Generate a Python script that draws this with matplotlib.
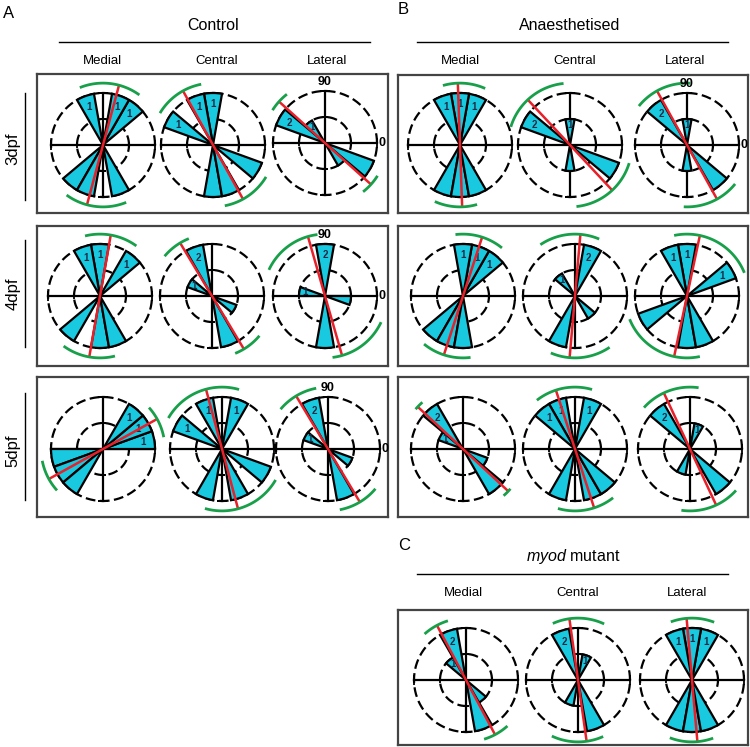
"""Rose diagrams of fibre orientation: control, anaesthetised and myod mutant."""

import numpy as np
import matplotlib

matplotlib.use("Agg")
import matplotlib.pyplot as plt
from matplotlib.lines import Line2D

plt.rcParams["font.family"] = ["Liberation Sans", "DejaVu Sans"]
plt.rcParams["mathtext.fontset"] = "custom"
plt.rcParams["mathtext.rm"] = "Liberation Sans"
plt.rcParams["mathtext.it"] = "Liberation Sans:italic"

W, H = 750, 747

# ---- data -------------------------------------------------------------
BIN_WIDTH = 20                       # degrees, bins 0-20 ... 160-180 (axial, mirrored)
BIN_STARTS = list(range(0, 180, BIN_WIDTH))
ZONES = ["Medial", "Central", "Lateral"]
STAGES = ["3dpf", "4dpf", "5dpf"]

control_counts = [
    [[0, 0, 1, 1, 0, 1, 0, 0, 0], [0, 0, 0, 0, 1, 1, 0, 1, 0], [0, 0, 0, 0, 0, 0, 1, 2, 0]],
    [[0, 0, 1, 0, 1, 1, 0, 0, 0], [0, 0, 0, 0, 0, 2, 0, 1, 0], [0, 0, 0, 0, 2, 0, 0, 0, 1]],
    [[1, 1, 1, 0, 0, 0, 0, 0, 0], [0, 0, 0, 1, 0, 1, 0, 1, 0], [0, 0, 0, 0, 0, 2, 0, 1, 0]],
]
control_mean = [[75, 119, 138], [80, 121, 106], [29, 105, 121]]
control_ci = [
    [(54, 112), (101, 149), (128, 148)],
    [(54, 104), (112, 140), (97, 155)],
    [(11, 42), (74, 150), (101, 140)],
]

anaes_counts = [
    [[0, 0, 0, 1, 1, 1, 0, 0, 0], [0, 0, 0, 0, 1, 0, 0, 2, 0], [0, 0, 0, 0, 1, 0, 2, 0, 0]],
    [[0, 0, 1, 1, 1, 0, 0, 0, 0], [0, 0, 0, 2, 0, 0, 1, 0, 0], [0, 1, 0, 0, 1, 1, 0, 0, 0]],
    [[0, 0, 0, 0, 0, 0, 2, 1, 0], [0, 0, 0, 1, 0, 1, 1, 0, 0], [0, 0, 0, 1, 0, 0, 2, 0, 0]],
]
anaes_mean = [[92, 133, 119], [72, 85, 78], [137, 108, 115]]
anaes_ci = [
    [(66, 106), (96, 163), (87, 141)],
    [(51, 97), (67, 124), (22, 102)],
    [(131, 140), (74, 128), (82, 138)],
]

myod_counts = [[0, 0, 0, 0, 0, 2, 1, 0, 0], [0, 0, 0, 1, 0, 2, 0, 0, 0], [0, 0, 0, 1, 1, 1, 0, 0, 0]]
myod_mean = [118, 98, 95]
myod_ci = [(107, 132), (65, 114), (69, 110)]

# ---- layout (pixels) ----------------------------------------------------
R_PX = 52          # outer circle radius
K = 1.3            # axes half-size relative to outer circle
BOX_A = [(37, 74, 351, 139), (37, 226, 351, 140), (37, 377, 351, 140)]
BOX_B = [(398, 75, 350, 138), (398, 226, 350, 140), (398, 377, 350, 140)]
BOX_C = (398, 610, 350, 135)
CENTERS_A = [[(103, 145), (213, 145), (325, 143)],
             [(100, 296), (212, 296), (325, 296)],
             [(103, 449), (222, 449), (328, 449)]]
CENTERS_B = [[(460, 145), (570, 145), (687, 145)],
             [(463, 296), (575, 296), (687, 296)],
             [(463, 449), (575, 449), (690, 449)]]
CENTERS_C = [(466, 680), (578, 680), (692, 680)]

CYAN = "#19c9df"
RED = "#e8202a"
GREEN = "#17a049"
NUM_COLOR = "#1b2a44"


def px_axes(fig, x0, y0, w, h, **kw):
    return fig.add_axes([x0 / W, 1 - (y0 + h) / H, w / W, h / H], **kw)


def draw_box(fig, rect):
    ax = px_axes(fig, *rect)
    ax.set_xticks([])
    ax.set_yticks([])
    for spine in ax.spines.values():
        spine.set_color("#444444")
        spine.set_linewidth(1.6)
    return ax


def draw_rose(fig, center, counts, mean, ci, angle_labels=False):
    cx, cy = center
    half = R_PX * K
    ax = px_axes(fig, cx - half, cy - half, 2 * half, 2 * half, projection="polar")
    ax.set_axis_off()
    rmax = max(counts)
    ax.set_ylim(0, rmax * K)

    # dashed circles
    full = np.linspace(0, 2 * np.pi, 361)
    for r in (rmax, rmax / 2):
        ax.plot(full, np.full_like(full, r), color="black", lw=1.6,
                linestyle=(0, (4.4, 2.0)), zorder=1)

    # cross with end caps and inner ticks
    ax.plot([0, 0, np.pi, np.pi], [rmax, 0, 0, rmax], color="black", lw=1.6, zorder=1.5)
    ax.plot([np.pi / 2, np.pi / 2, 1.5 * np.pi, 1.5 * np.pi], [rmax, 0, 0, rmax],
            color="black", lw=1.6, zorder=1.5)
    for r, ms in ((rmax, 7.5), (rmax / 2, 5)):
        ax.plot([0, np.pi], [r, r], linestyle="none", marker="|", ms=ms, mew=1.3,
                color="black", zorder=1.5)
        ax.plot([np.pi / 2, 1.5 * np.pi], [r, r], linestyle="none", marker="_", ms=ms,
                mew=1.3, color="black", zorder=1.5)

    # wedges (axial: each bin mirrored at +180)
    starts = np.array(BIN_STARTS, dtype=float)
    vals = np.array(counts, dtype=float)
    keep = vals > 0
    centers = np.deg2rad(starts[keep] + BIN_WIDTH / 2)
    width = np.deg2rad(BIN_WIDTH)
    for offset in (0, np.pi):
        ax.bar(centers + offset, vals[keep], width=width, bottom=0, color=CYAN,
               edgecolor="black", linewidth=1.6, zorder=2)
    for th, v in zip(centers, vals[keep]):
        ax.text(th, v * 0.78, str(int(v)), fontsize=7, fontweight="bold",
                color=NUM_COLOR, ha="center", va="center", zorder=3)

    # mean axis and confidence arcs
    t = np.deg2rad(mean)
    L = rmax * 1.17
    ax.plot([t, t, t + np.pi, t + np.pi], [L, 0, 0, L], color=RED, lw=1.8, zorder=4)
    arc = np.deg2rad(np.linspace(ci[0], ci[1], 60))
    for offset in (0, np.pi):
        ax.plot(arc + offset, np.full_like(arc, rmax * 1.19), color=GREEN, lw=2.0,
                solid_capstyle="butt", zorder=4)

    if angle_labels:
        ax.text(np.pi / 2, rmax * 1.17, "90", fontsize=9, fontweight="bold",
                ha="center", va="center", zorder=5)
        ax.text(0, rmax * 1.1, "0", fontsize=9, fontweight="bold",
                ha="center", va="center", zorder=5)
    return ax


def header(fig, label, lx, ly, title, tx, ty, line_y, x0, x1, sub_y, sub_x):
    fig.text(lx / W, 1 - ly / H, label, fontsize=12, ha="left", va="center")
    fig.text(tx / W, 1 - ty / H, title, fontsize=11.5, ha="center", va="center")
    fig.add_artist(Line2D([x0 / W, x1 / W], [1 - line_y / H, 1 - line_y / H],
                          color="black", lw=1.0))
    for zone, sx in zip(ZONES, sub_x):
        fig.text(sx / W, 1 - sub_y / H, zone, fontsize=9.5, ha="center", va="center")


fig = plt.figure(figsize=(W / 100, H / 100), dpi=100)

header(fig, "A", 3, 13, "Control", 213, 25, 42, 59, 370, 61, [102, 217, 327])
header(fig, "B", 398, 9, "Anaesthetised", 570, 25, 42, 417, 728, 61, [460, 575, 685])
header(fig, "C", 398, 546, r"$\mathit{myod}$ mutant", 573, 557, 574, 417, 728, 593,
       [463, 578, 687])

# stage labels on the left
for stage, (ymid, y0, y1) in zip(STAGES, [(149, 93, 200), (294, 240, 347), (451, 393, 500)]):
    fig.text(13 / W, 1 - ymid / H, stage, fontsize=12, rotation=90, ha="center", va="center")
    fig.add_artist(Line2D([25 / W, 25 / W], [1 - y0 / H, 1 - y1 / H], color="black", lw=1.0))

for row in range(3):
    draw_box(fig, BOX_A[row])
    draw_box(fig, BOX_B[row])
draw_box(fig, BOX_C)

for row in range(3):
    for col in range(3):
        draw_rose(fig, CENTERS_A[row][col], control_counts[row][col],
                  control_mean[row][col], control_ci[row][col], angle_labels=(col == 2))
        draw_rose(fig, CENTERS_B[row][col], anaes_counts[row][col],
                  anaes_mean[row][col], anaes_ci[row][col],
                  angle_labels=(col == 2 and row == 0))
for col in range(3):
    draw_rose(fig, CENTERS_C[col], myod_counts[col], myod_mean[col], myod_ci[col])

fig.savefig("out.png", dpi=100)
